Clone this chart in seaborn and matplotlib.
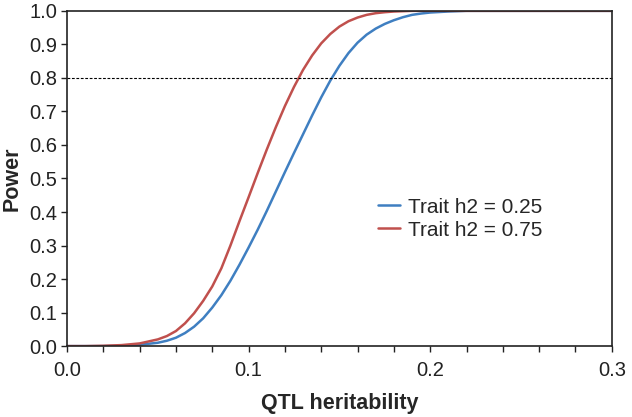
import numpy as np
import pandas as pd
import seaborn as sns
import matplotlib.pyplot as plt
from matplotlib.ticker import MultipleLocator, FormatStrFormatter

# values
qtl_h2 = [0.000, 0.010, 0.020, 0.030, 0.040, 0.050, 0.055, 0.060, 0.065, 0.070,
          0.075, 0.080, 0.085, 0.090, 0.095, 0.100, 0.105, 0.110, 0.115, 0.120,
          0.125, 0.130, 0.135, 0.140, 0.145, 0.150, 0.155, 0.160, 0.165, 0.170,
          0.175, 0.180, 0.185, 0.190, 0.195, 0.200, 0.210, 0.220, 0.250, 0.300]
power_025 = [0.000, 0.000, 0.000, 0.001, 0.004, 0.010, 0.016, 0.025, 0.039, 0.058,
             0.083, 0.115, 0.152, 0.195, 0.243, 0.294, 0.347, 0.403, 0.461, 0.519,
             0.576, 0.632, 0.688, 0.742, 0.792, 0.836, 0.874, 0.905, 0.929, 0.947,
             0.961, 0.972, 0.981, 0.988, 0.992, 0.995, 0.998, 1.000, 1.000, 1.000]
power_075 = [0.000, 0.000, 0.001, 0.003, 0.008, 0.020, 0.030, 0.045, 0.068, 0.098,
             0.135, 0.178, 0.232, 0.300, 0.373, 0.444, 0.516, 0.586, 0.653, 0.716,
             0.773, 0.824, 0.867, 0.903, 0.931, 0.953, 0.969, 0.980, 0.988, 0.993,
             0.996, 0.998, 0.999, 1.000, 1.000, 1.000, 1.000, 1.000, 1.000, 1.000]
series_names = ["Trait h2 = 0.25", "Trait h2 = 0.75"]
threshold = 0.8

df = pd.DataFrame({
    "qtl": qtl_h2 * 2,
    "power": power_025 + power_075,
    "trait": [series_names[0]] * len(qtl_h2) + [series_names[1]] * len(qtl_h2),
})

sns.set_style("ticks")
plt.rcParams["font.family"] = ["Liberation Sans", "DejaVu Sans"]

fig = plt.figure(figsize=(6.32, 4.17), dpi=100)
ax = fig.add_axes([0.106, 0.170, 0.862, 0.804])

sns.lineplot(data=df, x="qtl", y="power", hue="trait",
             palette=["#3f7fc1", "#c0504d"], linewidth=1.8, ax=ax)
ax.axhline(threshold, color="black", linestyle=(0, (2.5, 1.5)), linewidth=0.8, clip_on=False)

ax.set_xlim(0, 0.3)
ax.set_ylim(0, 1.0)
ax.xaxis.set_major_locator(MultipleLocator(0.1))
ax.xaxis.set_minor_locator(MultipleLocator(0.02))
ax.yaxis.set_major_locator(MultipleLocator(0.1))
ax.xaxis.set_major_formatter(FormatStrFormatter("%.1f"))
ax.yaxis.set_major_formatter(FormatStrFormatter("%.1f"))
ax.tick_params(axis="both", which="both", direction="out", length=4, width=1,
               color="#222222", labelsize=14.5, labelcolor="#222222")
ax.tick_params(axis="x", pad=7)
ax.tick_params(axis="y", pad=3)

for side in ["top", "right", "left", "bottom"]:
    ax.spines[side].set_visible(True)
    ax.spines[side].set_color("#222222")
    ax.spines[side].set_linewidth(1.2)

ax.set_xlabel("QTL heritability", fontsize=15.5, fontweight="bold", labelpad=9)
ax.set_ylabel("Power", fontsize=15.5, fontweight="bold", labelpad=5)

ax.legend(loc="center left", bbox_to_anchor=(0.536, 0.38), frameon=False,
          fontsize=15, handlelength=1.05, handletextpad=0.4, labelspacing=0.2)

fig.savefig("out.png", dpi=100)
